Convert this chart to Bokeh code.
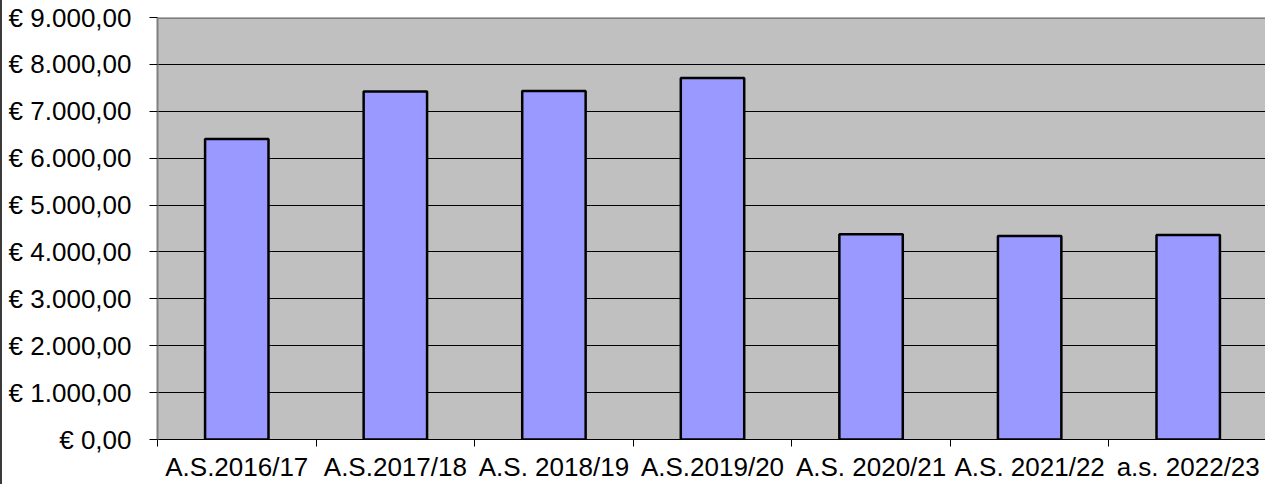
from bokeh.plotting import figure
from bokeh.models import Range1d, FixedTicker, Span
from bokeh.embed import file_html
from bokeh.resources import INLINE

categories = ["A.S.2016/17", "A.S.2017/18", "A.S. 2018/19", "A.S.2019/20",
              "A.S. 2020/21", "A.S. 2021/22", "a.s. 2022/23"]
values = [6410, 7420, 7430, 7710, 4380, 4340, 4360]
y_ticks = [0, 1000, 2000, 3000, 4000, 5000, 6000, 7000, 8000, 9000]
y_labels = ["€ 0,00", "€ 1.000,00", "€ 2.000,00", "€ 3.000,00", "€ 4.000,00",
            "€ 5.000,00", "€ 6.000,00", "€ 7.000,00", "€ 8.000,00", "€ 9.000,00"]

n = len(categories)
positions = [i + 0.5 for i in range(n)]
boundaries = list(range(n))

FONT = "Liberation Sans"
FSIZE = "26px"

p = figure(width=1265, height=484, output_backend="svg", toolbar_location=None,
           x_range=Range1d(0, n), y_range=Range1d(0, 9000),
           min_border_left=155, min_border_right=0, min_border_top=17, min_border_bottom=0)
p.styles = {"border-left": "2px solid #3a3a3a"}

p.background_fill_color = "#C0C0C0"
p.border_fill_color = "white"
p.outline_line_color = None

p.xgrid.visible = False
p.ygrid.ticker = FixedTicker(ticks=y_ticks[1:-1])
p.ygrid.grid_line_color = "black"
p.ygrid.grid_line_width = 1

p.vbar(x=positions, top=values, width=0.4, bottom=0,
       fill_color="#9999FF", line_color="black", line_width=2.5)

top_line = Span(location=y_ticks[-1], dimension="width", line_color="#808080", line_width=3)
p.add_layout(top_line)

ya = p.yaxis[0]
ya.ticker = FixedTicker(ticks=y_ticks)
ya.major_label_overrides = dict(zip(y_ticks, y_labels))
ya.axis_line_color = "#808080"
ya.axis_line_width = 2
ya.major_tick_out = 8
ya.major_tick_in = 0
ya.major_tick_line_color = "black"
ya.minor_tick_line_color = None
ya.major_label_standoff = 18
ya.major_label_text_font = FONT
ya.major_label_text_font_size = FSIZE
ya.major_label_text_color = "black"

xa = p.xaxis[0]
xa.ticker = FixedTicker(ticks=positions, minor_ticks=boundaries)
xa.major_label_overrides = dict(zip(positions, categories))
xa.axis_line_color = "black"
xa.axis_line_width = 1
xa.major_tick_out = 0
xa.major_tick_in = 0
xa.minor_tick_out = 7
xa.minor_tick_in = 0
xa.minor_tick_line_color = "black"
xa.major_label_standoff = 5
xa.major_label_text_font = FONT
xa.major_label_text_font_size = FSIZE
xa.major_label_text_color = "black"

open("out.html", "w").write(file_html(p, INLINE))
